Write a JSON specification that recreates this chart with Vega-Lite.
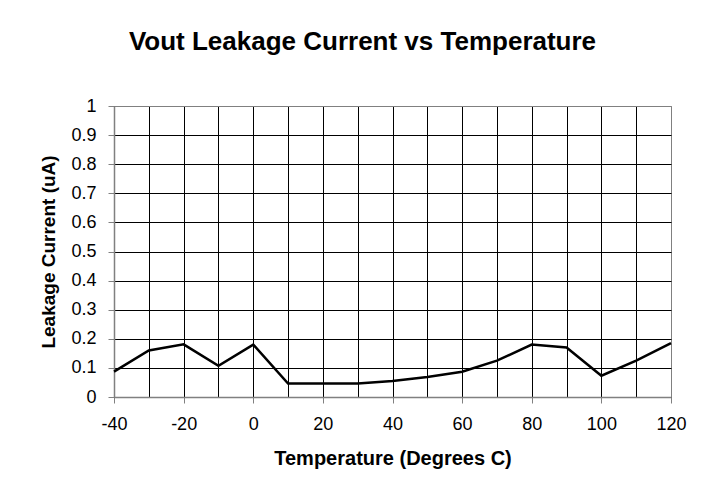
{
  "$schema": "https://vega.github.io/schema/vega-lite/v6.json",
  "autosize": {"type": "none"},
  "width": 557,
  "height": 291,
  "padding": {"left": 114, "top": 106, "right": 40, "bottom": 89},
  "background": "white",
  "title": {
    "text": "Vout Leakage Current vs Temperature",
    "font": "Liberation Sans",
    "fontSize": 26,
    "fontWeight": "bold",
    "color": "black",
    "anchor": "middle",
    "baseline": "alphabetic",
    "dx": -30,
    "offset": 21
  },
  "config": {
    "view": {"stroke": "#808080", "strokeWidth": 1},
    "font": "Liberation Sans"
  },
  "data": {
    "values": [
      {"temp": -40, "leak": 0.087},
      {"temp": -30, "leak": 0.16},
      {"temp": -20, "leak": 0.181},
      {"temp": -10, "leak": 0.107},
      {"temp": 0, "leak": 0.18},
      {"temp": 10, "leak": 0.046},
      {"temp": 20, "leak": 0.046},
      {"temp": 30, "leak": 0.046},
      {"temp": 40, "leak": 0.055},
      {"temp": 50, "leak": 0.069},
      {"temp": 60, "leak": 0.087},
      {"temp": 70, "leak": 0.125},
      {"temp": 80, "leak": 0.18},
      {"temp": 90, "leak": 0.17},
      {"temp": 100, "leak": 0.073},
      {"temp": 110, "leak": 0.125},
      {"temp": 120, "leak": 0.185}
    ]
  },
  "mark": {"type": "line", "color": "black", "strokeWidth": 2.5, "strokeJoin": "miter"},
  "encoding": {
    "x": {
      "field": "temp",
      "type": "quantitative",
      "scale": {"domain": [-40, 120], "nice": false, "zero": false},
      "axis": {
        "title": "Temperature (Degrees C)",
        "values": [-40, -30, -20, -10, 0, 10, 20, 30, 40, 50, 60, 70, 80, 90, 100, 110, 120],
        "labelExpr": "datum.value % 20 === 0 ? toString(datum.value) : ''",
        "labelFont": "Liberation Sans",
        "labelFontSize": 18,
        "labelColor": "black",
        "labelPadding": 12,
        "labelFlush": false,
        "labelOverlap": false,
        "tickSize": 6,
        "tickColor": "#808080",
        "tickOpacity": {"condition": {"test": "datum.value % 20 !== 0", "value": 0}, "value": 1},
        "domainColor": "#808080",
        "domainWidth": 1.5,
        "grid": true,
        "gridColor": {"condition": {"test": "datum.value === 120", "value": "#808080"}, "value": "black"},
        "gridOpacity": 1,
        "gridWidth": 1,
        "titleFont": "Liberation Sans",
        "titleFontSize": 20,
        "titleFontWeight": "bold",
        "titleColor": "black",
        "titlePadding": 15
      }
    },
    "y": {
      "field": "leak",
      "type": "quantitative",
      "scale": {"domain": [0, 1], "nice": false},
      "axis": {
        "title": "Leakage Current (uA)",
        "values": [0, 0.1, 0.2, 0.3, 0.4, 0.5, 0.6, 0.7, 0.8, 0.9, 1],
        "format": "~g",
        "labelFont": "Liberation Sans",
        "labelFontSize": 18,
        "labelColor": "black",
        "labelPadding": 12,
        "labelFlush": false,
        "labelOverlap": false,
        "tickSize": 6,
        "tickColor": "#808080",
        "domainColor": "#808080",
        "domainWidth": 1.5,
        "grid": true,
        "gridColor": {"condition": {"test": "datum.value === 1", "value": "#808080"}, "value": "black"},
        "gridOpacity": 1,
        "gridWidth": 1,
        "titleFont": "Liberation Sans",
        "titleFontSize": 19,
        "titleFontWeight": "bold",
        "titleColor": "black",
        "titlePadding": 12
      }
    }
  }
}
